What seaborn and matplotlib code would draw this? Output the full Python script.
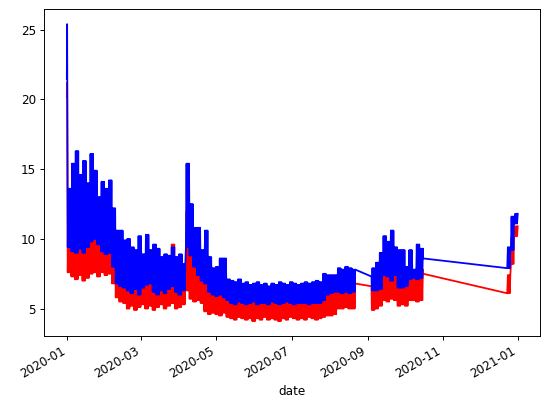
import matplotlib
matplotlib.use("Agg")
import matplotlib.pyplot as plt
import matplotlib.dates as mdates
import pandas as pd
import seaborn as sns

# dense stretches of data: first day and number of 3-day blocks in each
segment_starts = ['2020-01-01', '2020-09-04', '2020-12-23']
segment_blocks = [78, 14, 3]

# daily low / high of each series, one value per 3-day block
blue_high = [
    13.6, 15.4, 16.3, 14.6, 15.6, 14.0, 16.1, 14.9, 13.0, 14.1, 13.6, 14.2, 12.2,
    10.6, 10.6, 9.9, 10.0, 9.4, 9.2, 10.2, 8.9, 10.3, 9.2, 9.6, 9.3, 8.7, 8.9, 8.8, 9.4, 8.7, 8.9, 8.2,
    15.4, 12.5, 10.8, 10.8, 9.2, 10.6, 8.7, 7.9, 8.0, 8.6, 8.6, 7.1,
    7.0, 6.9, 7.1, 6.8, 6.9, 6.7, 6.8, 6.9, 6.7, 6.8, 6.6, 6.8, 6.7, 6.9, 6.8, 6.7, 6.9, 6.8, 6.7, 6.8,
    6.9, 6.8, 6.9, 7.0, 6.9,
    7.5, 7.4, 7.4, 7.4, 7.9, 7.8, 8.0, 7.9, 7.8,
    7.9, 8.3, 9.0, 10.2, 9.8, 10.6, 9.4, 9.2, 9.2, 8.0, 9.2, 7.8, 9.6, 9.3,
    9.4, 11.6, 11.8,
]
blue_low = [
    9.4, 9.1, 9.0, 9.3, 9.0, 9.4, 9.8, 10.0, 9.6, 9.1, 8.9, 9.0, 8.0,
    6.8, 6.6, 6.5, 6.3, 6.1, 6.4, 6.0, 6.5, 6.7, 6.8, 6.2, 6.0, 6.3, 6.1, 6.4, 6.6, 6.2, 6.0, 6.3,
    9.4, 8.8, 8.0, 7.4, 7.0, 6.8, 6.2, 6.0, 5.9, 6.0, 5.8, 5.6,
    5.4, 5.3, 5.5, 5.4, 5.3, 5.4, 5.5, 5.3, 5.4, 5.4, 5.3, 5.5, 5.4, 5.3, 5.4, 5.5, 5.4, 5.3, 5.4, 5.4,
    5.4, 5.3, 5.4, 5.4, 5.4,
    5.6, 6.0, 6.1, 6.2, 6.2, 6.1, 6.2, 6.1, 6.2,
    6.3, 6.3, 6.4, 7.4, 7.3, 7.0, 7.4, 6.5, 6.5, 6.6, 7.1, 7.2, 7.1, 7.2,
    7.9, 9.2, 11.1,
]
red_high = [
    11.5, 12.5, 13.0, 12.0, 12.5, 11.8, 13.0, 12.5, 11.5, 12.0, 11.5, 12.0, 10.5,
    9.0, 9.0, 8.5, 8.6, 8.2, 8.0, 8.8, 7.8, 8.9, 8.2, 8.4, 8.1, 7.7, 7.9, 7.8, 9.6, 7.7, 7.9, 7.3,
    12.0, 10.5, 9.5, 9.0, 8.2, 8.8, 7.6, 7.0, 7.0, 7.4, 7.4, 6.3,
    6.1, 6.0, 6.2, 6.0, 6.1, 5.9, 6.0, 6.1, 5.9, 6.0, 5.8, 6.0, 5.9, 6.1, 6.0, 5.9, 6.1, 6.0, 5.9, 6.0,
    6.1, 6.0, 6.1, 6.2, 6.1,
    6.6, 6.5, 6.5, 6.5, 6.9, 6.8, 7.0, 6.9, 6.8,
    6.8, 7.0, 7.4, 8.4, 8.2, 8.5, 8.0, 7.6, 7.6, 7.0, 7.8, 7.4, 7.9, 7.8,
    7.4, 10.1, 10.9,
]
red_low = [
    7.6, 7.3, 7.1, 7.4, 7.0, 7.2, 7.5, 7.6, 7.3, 7.6, 7.4, 7.5, 6.8,
    5.8, 5.5, 5.4, 5.0, 5.2, 4.9, 5.1, 5.3, 5.0, 5.2, 4.9, 5.1, 5.3, 5.0, 5.2, 5.4, 5.0, 5.1, 5.3,
    6.3, 5.7, 5.5, 5.6, 5.4, 4.8, 4.6, 4.7, 4.6, 4.5, 4.7, 4.4,
    4.3, 4.2, 4.4, 4.3, 4.2, 4.3, 4.1, 4.3, 4.2, 4.4, 4.2, 4.3, 4.2, 4.1, 4.3, 4.2, 4.4, 4.3, 4.2, 4.3,
    4.2, 4.4, 4.3, 4.2, 4.3,
    4.4, 4.5, 4.5, 4.6, 5.0, 5.0, 5.1, 5.0, 5.0,
    4.9, 5.0, 5.2, 5.6, 5.5, 5.7, 5.6, 5.2, 5.3, 5.2, 5.6, 5.6, 5.5, 5.6,
    6.1, 8.2, 10.2,
]

# single readings: the opening spike and the ends of the gap-bridging lines
anchor_dates = ['2019-12-31 12:00', '2019-12-31 18:00', '2020-09-04 00:00',
                '2020-10-15 21:00', '2020-12-23 00:00']
anchor_blue = [21.5, 25.4, 7.3, 8.6, 7.9]
anchor_red = [20.2, 21.2, 6.6, 7.5, 6.1]

# build the half-daily series: low in the morning, high in the evening
rows = []
b = 0
for start, n in zip(segment_starts, segment_blocks):
    for k in range(n):
        for d in range(3):
            day = pd.Timestamp(start) + pd.Timedelta(days=3 * k + d)
            rows.append((day + pd.Timedelta(hours=6), red_low[b], blue_low[b]))
            rows.append((day + pd.Timedelta(hours=18), red_high[b], blue_high[b]))
        b += 1

df = pd.DataFrame(rows, columns=['date', 'red', 'blue'])
anchors = pd.DataFrame({'date': pd.to_datetime(anchor_dates),
                        'red': anchor_red, 'blue': anchor_blue})
df = pd.concat([df, anchors]).sort_values('date').reset_index(drop=True)

fig = plt.figure(figsize=(550 / 86, 416 / 86), dpi=86)
ax = fig.add_axes([0.0805, 0.1923, 0.9018, 0.7853])

sns.lineplot(data=df, x='date', y='red', color='red', ax=ax)
sns.lineplot(data=df, x='date', y='blue', color='blue', ax=ax)

ax.set_ylabel('')
ax.set_xlabel('date')
ax.xaxis.set_major_locator(mdates.MonthLocator(bymonth=[1, 3, 5, 7, 9, 11]))
ax.xaxis.set_major_formatter(mdates.DateFormatter('%Y-%m'))
for lbl in ax.get_xticklabels():
    lbl.set_rotation(30)
    lbl.set_ha('right')

fig.savefig('out.png', dpi=86)
